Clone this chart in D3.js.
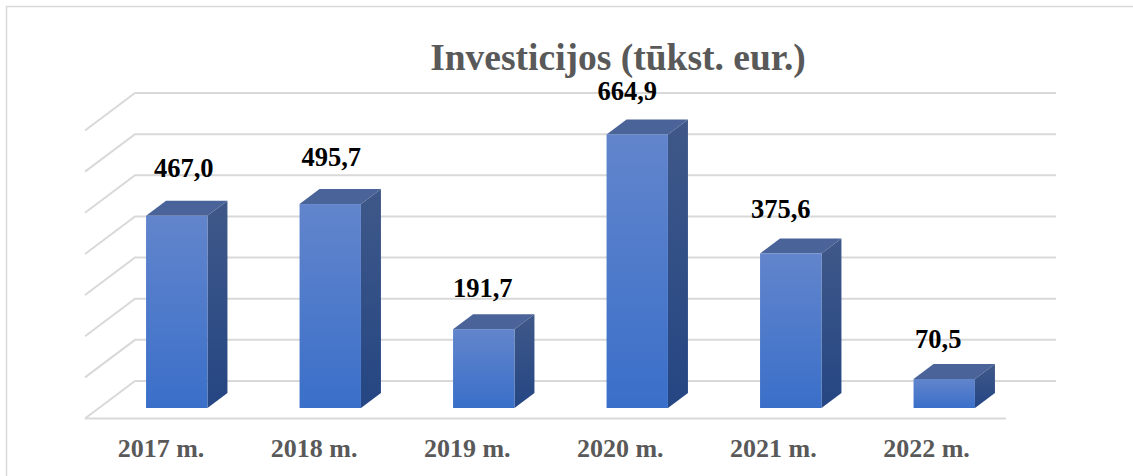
<!DOCTYPE html>
<html>
<head>
<meta charset="utf-8">
<script src="https://cdn.jsdelivr.net/npm/d3@7"></script>
<style>
  html, body { margin: 0; padding: 0; background: #fff; }
  svg { display: block; font-family: "Liberation Serif", serif; font-weight: bold; }
</style>
</head>
<body>
<div id="chart"></div>
<script>
const years = ["2017 m.", "2018 m.", "2019 m.", "2020 m.", "2021 m.", "2022 m."];
const investments = [467.0, 495.7, 191.7, 664.9, 375.6, 70.5];
const valueLabels = ["467,0", "495,7", "191,7", "664,9", "375,6", "70,5"];
const gridValues = [0, 100, 200, 300, 400, 500, 600, 700];

const width = 1133, height = 476;

// 3d look: the wall sits behind the floor, bars stand in the middle of it
const floorDepth = { x: 50, y: -37.5 };
const barDepth = { x: 20, y: -15 };

// value labels were dragged by hand in the original, so nudge each one
const labelNudge = [
    { x: -3, y: -24 }, { x: -9, y: -23 }, { x: -11, y: -17 },
    { x: -20, y: -19 }, { x: -20, y: -20 }, { x: -16, y: -16 }
];

const floorLeft = 85, floorRight = 1006;

// tick labels sit a little tighter than the floor
const xAxisScale = d3.scaleBand().domain(years).range([84.5, 1003]);
const xBar = d3.scaleBand().domain(years).range([100, 1021]).paddingInner(0.6).paddingOuter(0.3);
const yBar = d3.scaleLinear().domain([0, 700]).range([408, 120]);
const yFloor = d3.scaleLinear().domain([0, 700]).range([418.5, 130.5]);

const svg = d3.select("#chart").append("svg")
    .attr("width", width)
    .attr("height", height);

const defs = svg.append("defs");

function addGradient(id, top, bottom) {
    const gradient = defs.append("linearGradient")
        .attr("id", id)
        .attr("x1", 0).attr("y1", 0)
        .attr("x2", 0).attr("y2", 1);
    gradient.append("stop").attr("offset", "0%").attr("stop-color", top);
    gradient.append("stop").attr("offset", "100%").attr("stop-color", bottom);
}
addGradient("front-fill", "#6285cc", "#3a6fc9");
addGradient("side-fill", "#3f5889", "#254683");

// outer frame, only left and top are inside the picture
svg.append("path")
    .attr("d", `M6.5,${height} V6.5 H${width}`)
    .attr("fill", "none")
    .attr("stroke", "#d9d9d9")
    .attr("stroke-width", 1.5);

svg.append("text")
    .attr("x", 618)
    .attr("y", 70)
    .attr("text-anchor", "middle")
    .attr("font-size", 37.5)
    .attr("fill", "#595959")
    .text("Investicijos (tūkst. eur.)");

// side wall + back wall grid lines
svg.append("g")
    .attr("fill", "none")
    .attr("stroke", "#d9d9d9")
    .attr("stroke-width", 2)
    .selectAll("path")
    .data(gridValues)
    .join("path")
    .attr("d", d => {
        const y0 = yFloor(d);
        const backX = floorLeft + floorDepth.x;
        const backY = y0 + floorDepth.y;
        return `M${floorLeft},${y0} L${backX},${backY} H${floorRight + floorDepth.x}`;
    });

// front edge of the floor
svg.append("line")
    .attr("x1", floorLeft)
    .attr("x2", floorRight)
    .attr("y1", yFloor(0))
    .attr("y2", yFloor(0))
    .attr("stroke", "#d9d9d9")
    .attr("stroke-width", 2);

const bars = svg.append("g")
    .selectAll("g")
    .data(years.map((year, i) => ({ year, value: investments[i], label: valueLabels[i], nudge: labelNudge[i] })))
    .join("g");

const w = xBar.bandwidth();

bars.append("path")
    .attr("fill", "#4a6399")
    .attr("d", d => {
        const x = xBar(d.year), y = yBar(d.value);
        return `M${x},${y} l${barDepth.x},${barDepth.y} h${w} l${-barDepth.x},${-barDepth.y} Z`;
    });

bars.append("path")
    .attr("fill", "url(#side-fill)")
    .attr("d", d => {
        const x = xBar(d.year) + w, y = yBar(d.value), y0 = yBar(0);
        return `M${x},${y} l${barDepth.x},${barDepth.y} V${y0 + barDepth.y} L${x},${y0} Z`;
    });

bars.append("rect")
    .attr("fill", "url(#front-fill)")
    .attr("x", d => xBar(d.year))
    .attr("y", d => yBar(d.value))
    .attr("width", w)
    .attr("height", d => yBar(0) - yBar(d.value));

bars.append("text")
    .attr("x", d => xBar(d.year) + w / 2 + barDepth.x / 2 + d.nudge.x)
    .attr("y", d => yBar(d.value) + barDepth.y + d.nudge.y)
    .attr("text-anchor", "middle")
    .attr("font-size", 26.5)
    .attr("fill", "#000")
    .text(d => d.label);

const xAxis = svg.append("g")
    .attr("transform", `translate(0,${yFloor(0)})`)
    .call(d3.axisBottom(xAxisScale).tickSize(0).tickPadding(20));

xAxis.select(".domain").remove();
xAxis.selectAll("text")
    .attr("font-family", "Liberation Serif")
    .attr("font-weight", "bold")
    .attr("font-size", 26)
    .attr("fill", "#595959");
</script>
</body>
</html>
